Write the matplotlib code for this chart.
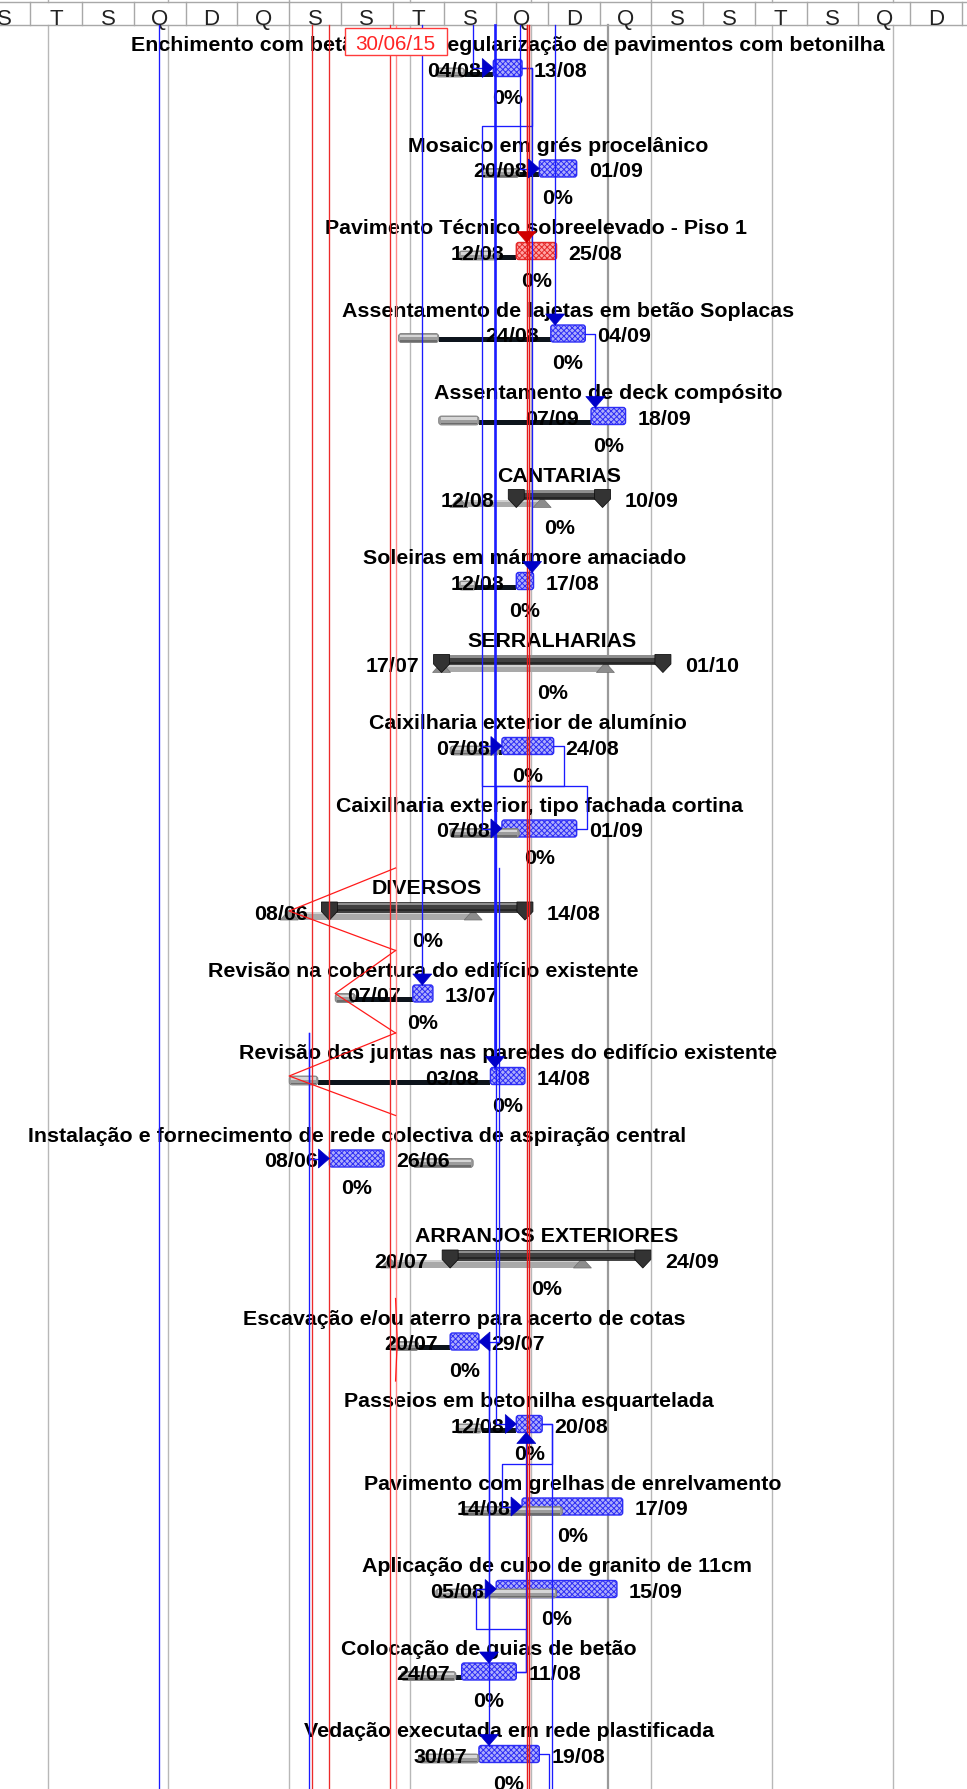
import matplotlib
matplotlib.use("Agg")
import matplotlib.pyplot as plt
import matplotlib.dates as mdates
from matplotlib.patches import Rectangle, FancyBboxPatch, Polygon
from datetime import datetime
import numpy as np

plt.rcParams['font.family'] = ['Liberation Sans', 'DejaVu Sans']
plt.rcParams['hatch.linewidth'] = 0.7

YEAR = 2015

# ---------------- data ----------------
names = ["Enchimento com betão leve e regularização de pavimentos com betonilha",
         "Mosaico em grés procelânico",
         "Pavimento Técnico sobreelevado - Piso 1",
         "Assentamento de lajetas em betão Soplacas",
         "Assentamento de deck compósito",
         "CANTARIAS",
         "Soleiras em mármore amaciado",
         "SERRALHARIAS",
         "Caixilharia exterior de alumínio",
         "Caixilharia exterior, tipo fachada cortina",
         "DIVERSOS",
         "Revisão na cobertura do edifício existente",
         "Revisão das juntas nas paredes do edifício existente",
         "Instalação e fornecimento de rede colectiva de aspiração central",
         "ARRANJOS EXTERIORES",
         "Escavação e/ou aterro para acerto de cotas",
         "Passeios em betonilha esquartelada",
         "Pavimento com grelhas de enrelvamento",
         "Aplicação de cubo de granito de 11cm",
         "Colocação de guias de betão",
         "Vedação executada em rede plastificada"]
starts = ["04/08", "20/08", "12/08", "24/08", "07/09", "12/08", "12/08", "17/07", "07/08", "07/08",
          "08/06", "07/07", "03/08", "08/06", "20/07", "20/07", "12/08", "14/08", "05/08", "24/07", "30/07"]
finishes = ["13/08", "01/09", "25/08", "04/09", "18/09", "10/09", "17/08", "01/10", "24/08", "01/09",
            "14/08", "13/07", "14/08", "26/06", "24/09", "29/07", "20/08", "17/09", "15/09", "11/08", "19/08"]
kinds = ["task", "task", "critical", "task", "task", "summary", "task", "summary", "task", "task",
         "summary", "task", "task", "task", "summary", "task", "task", "task", "task", "task", "task"]
base_starts = ["15/07", "31/07", "23/07", "02/07", "16/07", "23/07", "23/07", "17/07", "20/07", "20/07",
               "25/05", "10/06", "25/05", "07/07", "29/06", "29/06", "22/07", "24/07", "15/07", "03/07", "09/07"]
base_finishes = ["24/07", "12/08", "05/08", "15/07", "29/07", "20/08", "28/07", "11/09", "05/08", "12/08",
                 "27/07", "16/06", "03/06", "27/07", "03/09", "08/07", "30/07", "27/08", "25/08", "21/07", "29/07"]
complete = [0] * 21
tall_rows = [0, 13]

# timescale header
hdr_labels = ["S", "T", "S", "Q", "D", "Q", "S", "S", "T", "S", "Q", "D", "Q", "S", "S", "T", "S", "Q", "D"]
hdr_first = "06/02"
hdr_step = 18
grid_dates = ["02/03", "13/04", "25/05", "06/07", "17/08", "28/09", "09/11", "21/12"]
finish_line = "13/09"

# progress line
status_date = "01/07"
status_text = "30/06/15"
prog_rows = [10, 11, 12, 15]
prog_points = ["25/05", "10/06", "25/05", "01/07+0.6"]
red_lines = ["02/06", "08/06", "29/06"]
crit_lines = ["15/08+0.6", "16/08+0.5"]

# links: (predecessor, successor, route, vertical date for off-page predecessor)
links = [
    ('T', 0, 'right', '28/07'),
    ('T', 1, 'right', '13/08+0.3'),
    ('T', 3, 'down', '25/08+0.5'),
    ('T', 11, 'down', '10/07+0.3'),
    ('T', 'B', 'through', '09/04+0.6'),
    (0, 6, 'down', None),
    (0, 9, 'loop', None),
    (3, 4, 'down', None),
    (9, 8, 'loop', None),
    (8, 16, 'loop', None),
    ('r10', 15, 'ff', '06/08+0.1'),
    ('r12', 13, 'right', '01/06'),
    ('r12', 'B', 'through', '01/06'),
    (15, 19, 'down', None),
    (15, 20, 'down', None),
    (19, 18, 'loop', None),
    (19, 16, 'up', None),
    (16, 17, 'loop', None),
    (16, 'B', 'through', None),
    (20, 'B', 'through', None),
]
thick_links = [('T', 12, 'down', '04/08+0.6')]
crit_links = [('T', 2, 'down', '15/08+0.6')]


def D(s):
    frac = 0.0
    if '+' in s:
        s, f = s.split('+')
        frac = float(f)
    d, m = s.split('/')
    return mdates.date2num(datetime(YEAR, int(m), int(d))) + frac


# ---------------- layout ----------------
W, H = 967, 1790
PPD = 2.875          # pixels per day
REF_X = 493.3        # pixel of 04/08
REF = D("04/08")
HDR = 26
FS = 15.4
CAP = 0.358 * FS * 100 / 72


def px(n):
    return n / PPD


fig = plt.figure(figsize=(W / 100, H / 100), dpi=100)
ax = fig.add_axes([0, 0, 1, 1])
ax.set_xlim(REF - REF_X / PPD, REF + (W - REF_X) / PPD)
ax.set_ylim(H, 0)
ax.axis('off')

n = len(names)
row_h = np.array([100.5 if i in tall_rows else 82.5 for i in range(n)])
tops = HDR + np.concatenate([[0], np.cumsum(row_h)[:-1]])
yc = tops + 43

# header
ax.plot([ax.get_xlim()[0], ax.get_xlim()[1]], [2.7, 2.7], color='#a8a8a8', lw=1, zorder=3)
ax.plot([ax.get_xlim()[0], ax.get_xlim()[1]], [HDR, HDR], color='#a8a8a8', lw=1, zorder=3)
for k, lab in enumerate(hdr_labels):
    c0 = D(hdr_first) + hdr_step * k
    if k > 0:
        ax.plot([c0, c0], [2.7, HDR], color='#a8a8a8', lw=1, zorder=3)
    ax.text(c0 + hdr_step / 2, 24.5, lab, ha='center', va='baseline', fontsize=16,
            color='#222222', zorder=3)
c_end = D(hdr_first) + hdr_step * len(hdr_labels)
ax.plot([c_end, c_end], [2.7, HDR], color='#a8a8a8', lw=1, zorder=3)

# gridlines
for g in grid_dates:
    ax.plot([D(g), D(g)], [0, 2.7], color='#b0b0b0', lw=1, zorder=1)
    ax.plot([D(g), D(g)], [HDR, H], color='#b8b8b8', lw=1.0, zorder=1)
ax.plot([D(finish_line)] * 2, [HDR, H], color='#9a9a9a', lw=1.6, zorder=1)

# bars
for i in range(n):
    x0 = D(starts[i]); x1 = D(finishes[i]) + 1
    b0 = D(base_starts[i]); b1 = D(base_finishes[i]) + 1
    y = yc[i]
    if kinds[i] == 'summary':
        ax.add_patch(Rectangle((b0, y + 1), b1 - b0, 7.5, fc='#a9a9a9', ec='none', zorder=3))
        ax.add_patch(Rectangle((b0, y + 1), b1 - b0, 2.2, fc='#d0d0d0', ec='none', zorder=3))
        for c in (b0, b1):
            ax.add_patch(Polygon([(c - px(9), y + 9), (c + px(9), y + 9), (c, y - 1)],
                                 closed=True, fc='#8c8c8c', ec='#707070', lw=0.5, zorder=3))
        ax.add_patch(Rectangle((x0, y - 9), x1 - x0, 9.5, fc='#404040', ec='#202020', lw=0.5, zorder=4))
        ax.add_patch(Rectangle((x0, y - 8.5), x1 - x0, 2.5, fc='#8e8e8e', ec='none', zorder=4))
        ax.add_patch(Rectangle((x0, y - 2), x1 - x0, 2, fc='#262626', ec='none', zorder=4))
        for c in (x0, x1):
            ax.add_patch(Polygon([(c - px(8), y - 9), (c + px(8), y - 9), (c + px(8), y + 0.5),
                                  (c, y + 9), (c - px(8), y + 0.5)],
                                 closed=True, fc='#333333', ec='#111111', lw=0.6, zorder=5))
        sgap = 22
    else:
        if b1 < x0:
            ax.add_patch(Rectangle((b1, y + 3.5), x0 - b1, 5, fc='#0d141c', ec='none', zorder=3))
        if kinds[i] == 'critical':
            fc, ec = '#ffa4a4', '#e42a2a'
        else:
            fc, ec = '#aeaefa', '#2d2df5'
        ax.add_patch(FancyBboxPatch((x0, y - 8.5), x1 - x0, 17,
                                    boxstyle="round,pad=0,rounding_size=%f" % px(2.5),
                                    mutation_aspect=PPD, fc=fc, ec=ec, lw=1.0,
                                    hatch='xxxxxx', zorder=4))
        ax.add_patch(FancyBboxPatch((b0, y), b1 - b0, 9,
                                    boxstyle="round,pad=0,rounding_size=%f" % px(3),
                                    mutation_aspect=PPD, fc='#9c9c9c', ec='#7c7c7c', lw=0.6,
                                    zorder=5))
        ax.add_patch(Rectangle((b0 + px(2), y + 1.2), b1 - b0 - px(4), 2.4, fc='#d6d6d6',
                               ec='none', zorder=5))
        ax.add_patch(Rectangle((b0 + px(2), y + 6.6), b1 - b0 - px(4), 1.6, fc='#6c6c6c',
                               ec='none', zorder=5))
        sgap = 12
    cx = (x0 + x1) / 2
    kw = dict(fontsize=FS, fontweight='bold', va='baseline', color='black', zorder=8)
    ax.text(cx, y - 25.5 + CAP, names[i], ha='center', **kw)
    ax.text(x0 - px(sgap), y + CAP, starts[i], ha='right', **kw)
    ax.text(x1 + px(sgap), y + CAP, finishes[i], ha='left', **kw)
    ax.text(cx, y + 27 + CAP, "%d%%" % complete[i], ha='center', **kw)


# links
def arrow(x, y, d, color):
    L, Wd = 11, 9.5
    if d == 'down':
        pts = [(x - px(Wd), y - L), (x + px(Wd), y - L), (x, y)]
    elif d == 'up':
        pts = [(x - px(Wd), y + L), (x + px(Wd), y + L), (x, y)]
    elif d == 'right':
        pts = [(x - px(L), y - Wd), (x - px(L), y + Wd), (x, y)]
    else:
        pts = [(x + px(L), y - Wd), (x + px(L), y + Wd), (x, y)]
    ax.add_patch(Polygon(pts, closed=True, fc=color, ec=color, lw=0.5, zorder=11))


def draw_link(pred, succ, route, xv, color='#1b1bff', acolor='#0000c8', lw=0.95):
    if isinstance(pred, int):
        xp = D(finishes[pred]) + 1
        xs = [xp, xp + px(10)]
        ys = [yc[pred], yc[pred]]
        xv = xp + px(10)
    else:
        xv = D(xv)
        if pred == 'T':
            y0 = HDR
        elif pred == 'B':
            y0 = H
        else:
            y0 = tops[int(pred[1:])]
        xs, ys = [xv], [y0]
    if route == 'through':
        xs.append(xv); ys.append(H)
    elif route == 'down':
        xs.append(xv); ys.append(yc[succ] - 8.5)
        arrow(xv, yc[succ] - 8.5, 'down', acolor)
    elif route == 'up':
        xs.append(xv); ys.append(yc[succ] + 8.5)
        arrow(xv, yc[succ] + 8.5, 'up', acolor)
    elif route == 'right':
        s = D(starts[succ])
        xs += [xv, s - px(10)]; ys += [yc[succ], yc[succ]]
        arrow(s, yc[succ], 'right', acolor)
    elif route == 'ff':
        e = D(finishes[succ]) + 1
        xs += [xv, e + px(10)]; ys += [yc[succ], yc[succ]]
        arrow(e, yc[succ], 'left', acolor)
    elif route == 'loop':
        s = D(starts[succ])
        if succ > pred:
            ym = tops[pred] + row_h[pred]
        else:
            ym = tops[pred]
        xl = s - px(20)
        xs += [xv, xl, xl, s - px(10)]
        ys += [ym, ym, yc[succ], yc[succ]]
        arrow(s, yc[succ], 'right', acolor)
    ax.plot(xs, ys, color=color, lw=lw, zorder=10, solid_joinstyle='round')


for lk in links:
    draw_link(*lk)
for lk in thick_links:
    draw_link(*lk, lw=1.9)
for lk in crit_links:
    draw_link(*lk, color='#ff1010', acolor='#d00000')
for c in crit_lines:
    ax.plot([D(c)] * 2, [HDR, H], color='#e51818', lw=1.0, zorder=10)

# red vertical lines and progress line
for r in red_lines:
    ax.plot([D(r)] * 2, [HDR, H], color='#ec2a2a', lw=0.95, zorder=10)
xs_ = D(status_date)
ax.plot([xs_] * 2, [HDR, H], color='#ff8a8a', lw=1.0, zorder=10)
for r, p in zip(prog_rows, prog_points):
    ax.plot([xs_, D(p), xs_], [tops[r], yc[r], tops[r] + row_h[r]], color='#ff1a1a', lw=0.9, zorder=10)

# status date label
bw, bh = 102, 26.7
ax.add_patch(Rectangle((xs_ - px(bw / 2), 29.3), px(bw), bh, fc='white', ec='#ff3b3b', lw=1.0, zorder=12))
ax.text(xs_, 29.3 + bh / 2 + 0.358 * 14.9 * 100 / 72, status_text, ha='center', va='baseline',
        fontsize=14.9, color='#ff2424', zorder=13)

fig.savefig('out.png', dpi=100)
